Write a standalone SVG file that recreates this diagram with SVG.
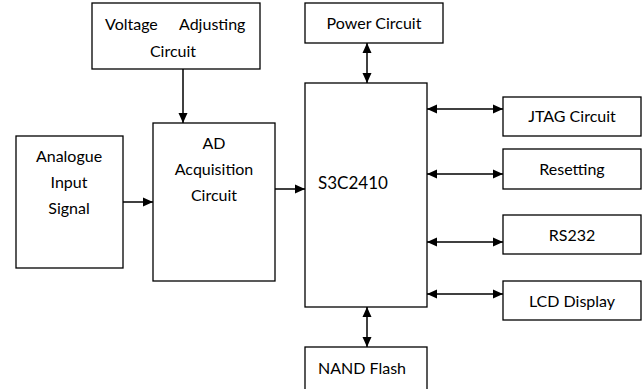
<svg xmlns="http://www.w3.org/2000/svg" width="642" height="389" viewBox="0 0 642 389">
<style>
.box{fill:#fff;stroke:#000;stroke-width:1.3}
.t{font-family:Lato,"Liberation Sans",sans-serif;font-size:16px;fill:#000;text-anchor:middle}
.ts{font-family:Lato,"Liberation Sans",sans-serif;font-size:16px;fill:#000}
.big{font-family:Lato,"Liberation Sans",sans-serif;font-size:17px;fill:#000}
.c{fill:none;stroke:#000;stroke-width:1.5}
</style>
<defs>
<marker id="ah" markerWidth="11" markerHeight="11" refX="10" refY="5.5" orient="auto-start-reverse" markerUnits="userSpaceOnUse">
<path d="M0,1 L10,5.5 L0,10 Z" fill="#000"/>
</marker>
</defs>
<rect width="642" height="389" fill="#fff"/>
<g id="voltage">
<rect class="box" x="92" y="3" width="168" height="66"/>
<text class="ts" y="30"><tspan x="105">Voltage</tspan><tspan x="179">Adjusting</tspan></text>
<text class="t" x="173" y="57">Circuit</text>
</g>
<g id="analogue">
<rect class="box" x="16" y="136" width="107" height="132"/>
<text class="t" x="69" y="162">Analogue</text>
<text class="t" x="69" y="188">Input</text>
<text class="t" x="69" y="214">Signal</text>
</g>
<g id="ad">
<rect class="box" x="153" y="123" width="122" height="158"/>
<text class="t" x="214" y="149">AD</text>
<text class="t" x="214" y="175">Acquisition</text>
<text class="t" x="214" y="201">Circuit</text>
</g>
<g id="s3c">
<rect class="box" x="305" y="83" width="122" height="224"/>
<text class="big" x="318" y="189">S3C2410</text>
</g>
<g id="power">
<rect class="box" x="305" y="3" width="138" height="40"/>
<text class="t" x="374" y="29">Power Circuit</text>
</g>
<g id="jtag">
<rect class="box" x="503" y="97" width="138" height="39"/>
<text class="t" x="572" y="122">JTAG Circuit</text>
</g>
<g id="resetting">
<rect class="box" x="503" y="149" width="138" height="40"/>
<text class="t" x="572" y="175">Resetting</text>
</g>
<g id="rs232">
<rect class="box" x="503" y="215" width="138" height="39"/>
<text class="t" x="572" y="241">RS232</text>
</g>
<g id="lcd">
<rect class="box" x="503" y="281" width="138" height="39"/>
<text class="t" x="572" y="307">LCD Display</text>
</g>
<g id="nand">
<rect class="box" x="305" y="347" width="122" height="50"/>
<text class="ts" x="318" y="374">NAND Flash</text>
</g>
<g id="connectors">
<line class="c" x1="183" y1="69" x2="183" y2="123" marker-end="url(#ah)"/>
<line class="c" x1="123" y1="202" x2="153" y2="202" marker-end="url(#ah)"/>
<line class="c" x1="275" y1="189" x2="305" y2="189" marker-end="url(#ah)"/>
<line class="c" x1="367" y1="43" x2="367" y2="83" marker-start="url(#ah)" marker-end="url(#ah)"/>
<line class="c" x1="367" y1="307" x2="367" y2="347" marker-start="url(#ah)" marker-end="url(#ah)"/>
<line class="c" x1="427" y1="109" x2="503" y2="109" marker-start="url(#ah)" marker-end="url(#ah)"/>
<line class="c" x1="427" y1="174" x2="503" y2="174" marker-start="url(#ah)" marker-end="url(#ah)"/>
<line class="c" x1="427" y1="242" x2="503" y2="242" marker-start="url(#ah)" marker-end="url(#ah)"/>
<line class="c" x1="427" y1="294" x2="503" y2="294" marker-start="url(#ah)" marker-end="url(#ah)"/>
</g>
</svg>
